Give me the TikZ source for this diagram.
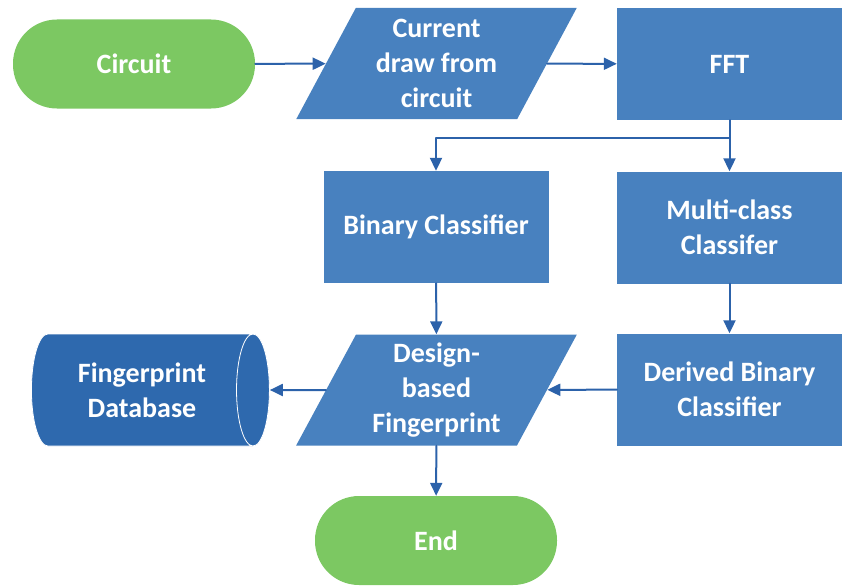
\documentclass[tikz,border=0pt]{standalone}
\usepackage{fontspec}
\setmainfont{Carlito}
\usetikzlibrary{arrows.meta,shapes.geometric}
\definecolor{boxblue}{RGB}{72,129,191}
\definecolor{dbblue}{RGB}{46,105,174}
\definecolor{termgreen}{RGB}{124,200,98}
\definecolor{arrowblue}{RGB}{44,98,170}
\tikzset{
    base/.style = {text=white, font=\fontsize{28}{35}\selectfont\bfseries, align=center, inner sep=0pt},
    terminal/.style = {base, fill=termgreen, rounded corners=44pt, minimum width=242pt, minimum height=89pt},
    process/.style = {base, fill=boxblue, minimum width=225pt, minimum height=112pt},
    io/.style = {base, fill=boxblue, trapezium, trapezium left angle=63.2, trapezium right angle=116.8,
                 trapezium stretches=true, minimum width=281pt, minimum height=111pt},
    % cylinder: height runs along the axis
    store/.style = {base, fill=dbblue, draw=white, line width=0.8pt, cylinder, shape aspect=0.6,
                    minimum height=238pt, minimum width=112pt},
    flow/.style = {-{Triangle[length=13pt,width=12pt]}, line width=2pt, draw=arrowblue}
}

\begin{document}
\begin{tikzpicture}[line cap=round,line join=round,x=1pt,y=-1pt]
    \useasboundingbox (0,0) rectangle (842,586);

    % top row
    \node[terminal] (circuit) at (134,64) {Circuit};
    \node[io] (current) at (436.5,63.5) {Current\\draw from\\circuit};
    \node[process] (fft) at (729.5,64) {FFT};

    % classifiers
    \node[process] (binary) at (436,227) {Binary Classifier};
    \node[process] (multi) at (729.5,227.5) {Multi-class\\Classifer};

    % fingerprint row
    \node[store] (database) at (142,390) {Fingerprint\\Database};
    \node[io] (design) at (436.5,390) {Design-\\based\\Fingerprint};
    \node[process] (derived) at (729.5,389.5) {Derived Binary\\Classifier};

    \node[terminal] (stop) at (436,540.5) {End};

    % connectors
    \coordinate (split) at (729.5,138);
    \draw[flow] (circuit) -- (current);
    \draw[flow] (current) -- (fft);
    \draw[flow] (fft) -- (multi);
    \draw[flow] (split) -| (binary);
    \draw[flow] (binary) -- (design);
    \draw[flow] (multi) -- (derived);
    \draw[flow] (derived) -- (design);
    \draw[flow] (design) -- (database);
    \draw[flow] (design) -- (stop);
\end{tikzpicture}
\end{document}
